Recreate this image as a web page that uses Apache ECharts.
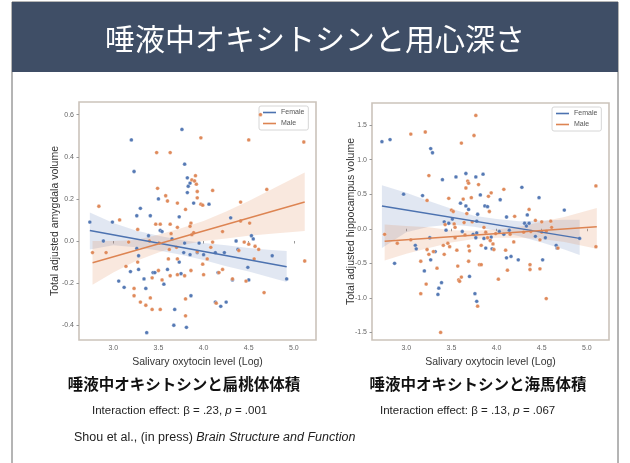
<!DOCTYPE html>
<html>
<head>
<meta charset="utf-8">
<script src="https://cdn.jsdelivr.net/npm/echarts@6/dist/echarts.min.js"></script>
<style>
  html, body { margin: 0; padding: 0; background: #fff; }
  #chart { width: 630px; height: 463px; }
</style>
</head>
<body>
<div id="chart"></div>
<script>
// ---- data ----
const xTicks = [3.0, 3.5, 4.0, 4.5, 5.0];
const amyTicks = [-0.4, -0.2, 0.0, 0.2, 0.4, 0.6];
const hipTicks = [-1.5, -1.0, -0.5, 0.0, 0.5, 1.0, 1.5];

// amygdala volume vs oxytocin
const amyFemale = [
  [2.74, 0.09], [2.89, 0.00], [2.99, 0.09], [3.20, 0.48], [3.23, 0.33], [3.06, -0.19], [3.12, -0.22],
  [3.19, -0.145], [3.26, -0.035], [3.28, -0.07], [3.28, -0.135], [3.26, 0.12], [3.30, 0.155], [3.34, -0.18],
  [3.36, -0.225], [3.37, -0.435], [3.39, 0.025], [3.41, 0.12], [3.44, -0.15], [3.46, -0.15], [3.50, 0.20],
  [3.52, 0.05], [3.54, 0.045], [3.56, -0.205], [3.60, -0.135], [3.65, 0.01], [3.68, -0.325], [3.67, -0.40],
  [3.73, 0.115], [3.73, -0.10], [3.75, -0.155], [3.76, 0.53], [3.79, 0.365], [3.82, 0.30], [3.82, 0.23],
  [3.83, 0.26], [3.79, -0.01], [3.78, -0.055], [3.81, -0.41], [3.85, 0.275], [3.85, -0.065], [3.86, -0.26],
  [3.89, 0.18], [3.95, -0.01], [3.93, -0.055], [4.00, -0.065], [4.06, 0.175], [4.13, -0.055], [4.19, -0.31],
  [4.13, -0.29], [4.16, -0.15], [4.23, -0.055], [4.25, -0.29], [4.30, 0.11], [4.32, -0.185], [4.36, 0.00],
  [4.38, -0.04], [4.49, -0.125], [4.50, -0.185], [4.53, 0.025], [4.55, 0.01], [4.76, -0.07], [4.92, -0.18]
];
const amyMale = [
  [2.77, -0.055], [2.84, 0.165], [2.92, -0.055], [3.07, 0.10], [3.14, -0.12], [3.17, -0.005], [3.27, -0.10],
  [3.27, 0.055], [3.23, -0.225], [3.23, -0.26], [3.30, -0.29], [3.36, -0.305], [3.40, 0.00], [3.43, -0.175],
  [3.41, -0.27], [3.43, -0.325], [3.48, 0.42], [3.49, 0.25], [3.47, 0.08], [3.52, 0.08], [3.51, -0.01],
  [3.50, -0.14], [3.54, -0.185], [3.52, -0.325], [3.58, 0.215], [3.60, 0.19], [3.63, 0.42], [3.63, 0.08],
  [3.64, 0.035], [3.62, -0.04], [3.61, -0.085], [3.63, -0.165], [3.71, 0.18], [3.71, 0.065], [3.70, -0.03],
  [3.71, -0.085], [3.71, -0.16], [3.80, 0.15], [3.79, -0.165], [3.80, -0.275], [3.80, -0.355], [3.87, 0.29],
  [3.86, 0.085], [3.85, 0.07], [3.87, 0.03], [3.86, -0.14], [3.90, 0.285], [3.91, 0.31], [3.92, 0.27],
  [3.93, 0.235], [3.93, 0.205], [3.89, 0.04], [3.93, -0.05], [3.97, 0.49], [3.97, 0.175], [3.99, 0.17],
  [3.99, -0.11], [4.00, -0.16], [4.04, -0.085], [4.08, -0.03], [4.10, -0.005], [4.10, 0.24], [4.14, -0.295],
  [4.17, -0.15], [4.21, -0.135], [4.21, 0.045], [4.32, -0.18], [4.39, -0.045], [4.41, 0.095], [4.41, 0.185],
  [4.45, -0.005], [4.47, -0.19], [4.50, -0.015], [4.50, 0.48], [4.51, 0.085], [4.57, -0.025], [4.56, -0.085],
  [4.61, -0.04], [4.63, 0.60], [4.67, -0.245], [4.70, 0.245], [5.11, 0.47], [5.12, -0.095]
];
const amyFemaleFit = [[2.74, 0.05], [4.92, -0.122]];
const amyMaleFit = [[2.77, -0.103], [5.12, 0.185]];
const amyFemaleBandX = [2.74, 3.0, 3.25, 3.5, 3.75, 4.0, 4.25, 4.5, 4.75, 4.92];
const amyFemaleBandLo = [-0.04, -0.02, -0.03, -0.045, -0.065, -0.09, -0.12, -0.145, -0.175, -0.195];
const amyFemaleBandHi = [0.135, 0.085, 0.05, 0.025, 0.005, -0.01, -0.02, -0.033, -0.043, -0.047];
const amyMaleBandX = [2.77, 3.0, 3.25, 3.5, 3.75, 4.0, 4.25, 4.5, 4.75, 5.12];
const amyMaleBandLo = [-0.208, -0.15, -0.095, -0.055, -0.02, 0.0, 0.012, 0.025, 0.035, 0.047];
const amyMaleBandHi = [0.0, 0.0, 0.005, 0.03, 0.06, 0.095, 0.14, 0.19, 0.245, 0.325];

// hippocampus volume vs oxytocin
const hipFemale = [
  [2.73, 1.26], [2.82, 1.29], [2.87, -0.50], [2.97, 0.50], [3.10, -0.24], [3.11, -0.29], [3.18, 0.48],
  [3.20, -0.61], [3.26, -0.13], [3.27, 1.16], [3.29, 1.10], [3.27, -0.45], [3.32, -0.33], [3.35, -0.95],
  [3.36, -0.86], [3.40, 0.71], [3.39, -0.78], [3.42, 0.10], [3.44, -0.02], [3.47, 0.08], [3.51, 0.14],
  [3.55, 0.75], [3.60, 0.37], [3.62, -0.04], [3.66, 0.80], [3.66, 0.33], [3.69, 0.28], [3.70, -0.69],
  [3.74, -0.08], [3.77, 0.75], [3.78, 0.11], [3.78, -0.06], [3.77, -0.13], [3.76, -0.94], [3.78, -1.05],
  [3.79, 0.21], [3.82, 0.49], [3.85, 0.79], [3.86, -0.14], [3.87, 0.33], [3.88, -0.28], [3.90, 0.32],
  [3.94, -0.12], [3.95, -0.29], [4.03, -0.04], [4.04, 0.42], [4.08, -0.08], [4.11, -0.42], [4.11, 0.17],
  [4.14, -0.02], [4.16, -0.40], [4.24, -0.45], [4.28, 0.60], [4.31, 0.08], [4.33, 0.04], [4.34, 0.20],
  [4.36, 0.08], [4.43, -0.11], [4.47, 0.45], [4.51, -0.45], [4.54, -0.13], [4.66, -0.24], [4.67, -0.28],
  [4.75, 0.27], [4.92, -0.14]
];
const hipMale = [
  [2.76, -0.08], [2.90, -0.21], [3.05, 1.37], [3.05, -0.16], [3.16, -0.47], [3.16, -0.94], [3.21, 1.40],
  [3.22, -0.80], [3.23, 0.41], [3.23, -0.30], [3.25, -0.37], [3.25, 0.77], [3.30, -0.33], [3.34, -0.57],
  [3.38, -1.50], [3.41, -0.24], [3.42, -0.37], [3.43, 0.06], [3.46, -0.21], [3.47, 0.44], [3.48, -0.26],
  [3.50, 0.27], [3.52, 0.25], [3.53, 0.07], [3.54, 0.02], [3.54, -0.13], [3.56, -0.31], [3.57, -0.54],
  [3.58, -0.74], [3.59, -0.76], [3.61, -0.70], [3.61, 1.24], [3.63, 0.43], [3.64, 0.09], [3.65, -0.09],
  [3.66, 0.59], [3.67, 0.22], [3.68, 0.69], [3.69, 0.66], [3.69, -0.25], [3.70, -0.32], [3.69, -0.47],
  [3.72, 0.45], [3.73, 0.10], [3.75, 1.35], [3.77, 1.64], [3.79, -1.12], [3.80, 0.64], [3.81, -0.52],
  [3.83, -0.52], [3.83, -0.24], [3.86, 0.02], [3.88, -0.05], [3.90, -0.13], [3.91, 0.47], [3.92, 0.25],
  [3.93, -0.17], [3.94, 0.52], [3.96, -0.22], [3.97, -0.30], [3.99, -0.07], [4.02, -0.73], [4.08, 0.57],
  [4.10, -0.31], [4.12, -0.60], [4.15, -0.08], [4.19, -0.19], [4.20, 0.18], [4.30, -0.05], [4.36, 0.28],
  [4.37, -0.52], [4.37, -0.59], [4.38, -0.04], [4.43, 0.12], [4.48, -0.58], [4.48, -0.16], [4.50, 0.10],
  [4.50, -0.05], [4.55, -1.01], [4.55, -0.04], [4.60, 0.11], [4.61, 0.02], [4.68, -0.28], [5.10, 0.62],
  [5.10, -0.26]
];
const hipFemaleFit = [[2.73, 0.33], [4.92, -0.14]];
const hipMaleFit = [[2.76, -0.18], [5.11, 0.03]];
const hipFemaleBandX = [2.73, 3.0, 3.25, 3.5, 3.75, 4.0, 4.25, 4.5, 4.75, 4.92];
const hipFemaleBandLo = [-0.28, -0.05, 0.03, 0.06, 0.03, -0.03, -0.11, -0.20, -0.30, -0.38];
const hipFemaleBandHi = [0.63, 0.52, 0.40, 0.29, 0.19, 0.14, 0.11, 0.12, 0.13, 0.13];
const hipMaleBandX = [2.76, 3.0, 3.25, 3.5, 3.75, 4.0, 4.25, 4.5, 4.75, 5.11];
const hipMaleBandLo = [-0.46, -0.36, -0.28, -0.20, -0.15, -0.13, -0.13, -0.15, -0.19, -0.29];
const hipMaleBandHi = [0.06, 0.04, 0.02, -0.02, -0.03, -0.01, 0.03, 0.10, 0.17, 0.30];

// ---- chart ----
const blue = "#4c72b0";
const orange = "#dd8452";
const blueBand = "rgba(76,114,176,0.17)";
const orangeBand = "rgba(221,132,82,0.19)";
const latin = "'Liberation Sans', Arial, sans-serif";
const cjk = "'Noto Sans CJK JP', sans-serif";

const chart = echarts.init(document.getElementById("chart"), null, { renderer: "canvas" });

const xAxisFor = (gridIndex) => ({
  type: "value",
  gridIndex,
  min: 2.62,
  max: 5.245,
  name: "Salivary oxytocin level (Log)",
  nameLocation: "middle",
  nameGap: 14,
  nameTextStyle: { color: "#333", fontSize: 10.5, fontFamily: latin },
  axisLine: { show: false },
  axisTick: { show: true, customValues: xTicks, length: 2.5, lineStyle: { color: "#999" } },
  axisLabel: {
    customValues: xTicks, margin: 5, fontSize: 7, color: "#666", fontFamily: latin,
    formatter: (v) => v.toFixed(1),
  },
  splitLine: { show: false },
});

const yAxisFor = (gridIndex, min, max, ticks, name, gap) => ({
  type: "value",
  gridIndex,
  min,
  max,
  name,
  nameLocation: "middle",
  nameGap: gap,
  nameMoveOverlap: false,
  nameTextStyle: { color: "#333", fontSize: 10.5, fontFamily: latin },
  axisLine: { show: false },
  axisTick: { show: true, customValues: ticks, length: 2.5, lineStyle: { color: "#999" } },
  axisLabel: {
    customValues: ticks, margin: 5, fontSize: 7, color: "#666", fontFamily: latin,
    formatter: (v) => v.toFixed(1),
  },
  splitLine: { show: false },
});

const scatter = (name, idx, data, color) => ({
  name,
  type: "scatter",
  xAxisIndex: idx,
  yAxisIndex: idx,
  data,
  symbolSize: 3.8,
  itemStyle: { color, borderColor: "#fff", borderWidth: 0.3, opacity: 0.95 },
  z: 4,
});

const fitLine = (name, idx, data, color) => ({
  name,
  type: "line",
  xAxisIndex: idx,
  yAxisIndex: idx,
  data,
  symbol: "none",
  lineStyle: { color, width: 1.4 },
  z: 5,
});

// confidence band as one polygon through the axis scales
const band = (idx, xs, lo, hi, fill) => ({
  type: "custom",
  xAxisIndex: idx,
  yAxisIndex: idx,
  silent: true,
  z: 1,
  encode: { x: 0, y: [1, 2] },
  data: xs.map((x, i) => [x, lo[i], hi[i]]),
  renderItem: (params, api) => {
    if (params.dataIndex !== 0) return null;
    const top = xs.map((x, i) => api.coord([x, hi[i]]));
    const bottom = xs.map((x, i) => api.coord([x, lo[i]])).reverse();
    return { type: "polygon", shape: { points: top.concat(bottom) }, style: { fill } };
  },
});

const legendFor = (left, top) => ({
  orient: "vertical",
  left,
  top,
  selectedMode: false,
  itemWidth: 13,
  itemHeight: 1.6,
  itemGap: 4,
  padding: [3, 4, 3, 4],
  borderColor: "#d6d6d6",
  borderWidth: 1,
  borderRadius: 2,
  backgroundColor: "#fff",
  itemStyle: { borderWidth: 0 },
  textStyle: { fontSize: 7, color: "#555", fontFamily: latin },
  data: [
    { name: "Female", icon: "rect", itemStyle: { color: blue, borderWidth: 0, opacity: 1 } },
    { name: "Male", icon: "rect", itemStyle: { color: orange, borderWidth: 0, opacity: 1 } },
  ],
});

const option = {
  backgroundColor: "#fff",
  animation: false,
  grid: [
    { left: 79, top: 102, width: 237, height: 238, show: true, borderColor: "#cbc3bb", borderWidth: 1.6, backgroundColor: "#fff" },
    { left: 372, top: 103, width: 237, height: 237, show: true, borderColor: "#cbc3bb", borderWidth: 1.6, backgroundColor: "#fff" },
  ],
  xAxis: [xAxisFor(0), xAxisFor(1)],
  yAxis: [
    yAxisFor(0, -0.47, 0.66, amyTicks, "Total adjusted amygdala volume", 18),
    yAxisFor(1, -1.61, 1.82, hipTicks, "Total adjusted hippocampus volume", 15),
  ],
  legend: [legendFor(259, 106), legendFor(552, 107)],
  graphic: [
    // slide frame and header
    { type: "rect", shape: { x: 12, y: 2, width: 606, height: 470 }, style: { fill: "none", stroke: "#6b6b6b", lineWidth: 1 }, z: 0 },
    { type: "rect", shape: { x: 12, y: 2, width: 606, height: 70 }, style: { fill: "#3f4e66" }, z: 0 },
    {
      type: "text", x: 315, y: 39,
      style: { text: "唾液中オキシトシンと用心深さ", fill: "#fff", font: "30px " + cjk, textAlign: "center", textVerticalAlign: "middle" },
    },
    {
      type: "text", x: 184, y: 384,
      style: { text: "唾液中オキシトシンと扁桃体体積", fill: "#111", font: "bold 15.5px " + cjk, textAlign: "center", textVerticalAlign: "middle" },
    },
    {
      type: "text", x: 478, y: 384,
      style: { text: "唾液中オキシトシンと海馬体積", fill: "#111", font: "bold 15.5px " + cjk, textAlign: "center", textVerticalAlign: "middle" },
    },
    {
      type: "text", x: 92, y: 411,
      style: {
        text: "{a|Interaction effect: β = .23, }{i|p}{a| = .001}",
        textVerticalAlign: "middle",
        rich: {
          a: { fontSize: 11.5, fontFamily: latin, fill: "#222" },
          i: { fontSize: 11.5, fontFamily: latin, fontStyle: "italic", fill: "#222" },
        },
      },
    },
    {
      type: "text", x: 380, y: 411,
      style: {
        text: "{a|Interaction effect: β = .13, }{i|p}{a| = .067}",
        textVerticalAlign: "middle",
        rich: {
          a: { fontSize: 11.5, fontFamily: latin, fill: "#222" },
          i: { fontSize: 11.5, fontFamily: latin, fontStyle: "italic", fill: "#222" },
        },
      },
    },
    {
      type: "text", x: 74, y: 438,
      style: {
        text: "{a|Shou et al., (in press) }{i|Brain Structure and Function}",
        textVerticalAlign: "middle",
        rich: {
          a: { fontSize: 12.5, fontFamily: latin, fill: "#222" },
          i: { fontSize: 12.5, fontFamily: latin, fontStyle: "italic", fill: "#222" },
        },
      },
    },
  ],
  series: [
    band(0, amyFemaleBandX, amyFemaleBandLo, amyFemaleBandHi, blueBand),
    band(0, amyMaleBandX, amyMaleBandLo, amyMaleBandHi, orangeBand),
    scatter("Female", 0, amyFemale, blue),
    scatter("Male", 0, amyMale, orange),
    fitLine("Female", 0, amyFemaleFit, blue),
    fitLine("Male", 0, amyMaleFit, orange),

    band(1, hipFemaleBandX, hipFemaleBandLo, hipFemaleBandHi, blueBand),
    band(1, hipMaleBandX, hipMaleBandLo, hipMaleBandHi, orangeBand),
    scatter("Female", 1, hipFemale, blue),
    scatter("Male", 1, hipMale, orange),
    fitLine("Female", 1, hipFemaleFit, blue),
    fitLine("Male", 1, hipMaleFit, orange),
  ],
};

chart.setOption(option);
</script>
</body>
</html>
